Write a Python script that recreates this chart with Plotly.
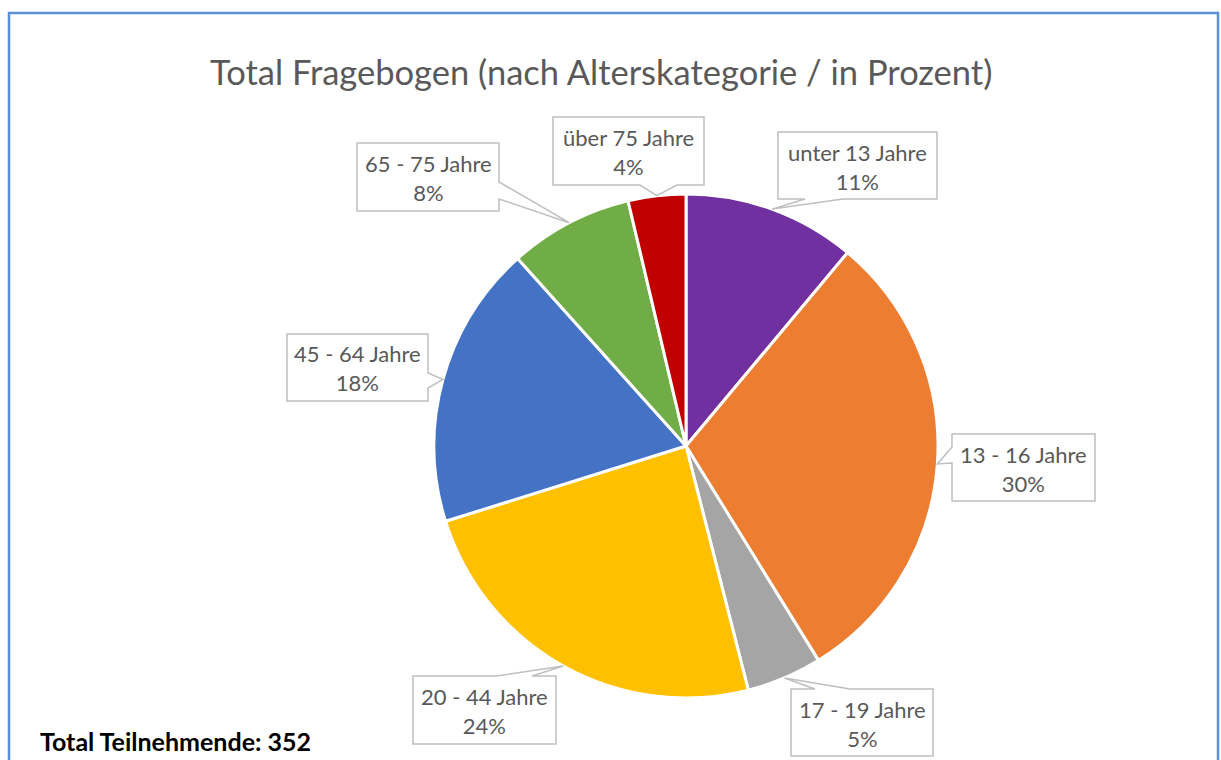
import math
import plotly.graph_objects as go

# ---- data ----
categories = ["unter 13 Jahre", "13 - 16 Jahre", "17 - 19 Jahre", "20 - 44 Jahre",
              "45 - 64 Jahre", "65 - 75 Jahre", "über 75 Jahre"]
counts = [39, 106, 17, 85, 64, 28, 13]
colors = ["#7030A0", "#ED7D31", "#A5A5A5", "#FFC000", "#4472C4", "#70AD47", "#C00000"]
title_text = "Total Fragebogen (nach Alterskategorie / in Prozent)"
total_prefix = "Total Teilnehmende: "

# ---- layout (pixels) ----
W, H = 1221, 760
CX, CY, R = 686, 446, 252
# callout boxes: x0, y0, x1, y1, pointer edge, pointer base start/end
label_boxes = [
    (778, 132, 937, 199, "bottom", 805, 843),
    (952, 434, 1095, 501, "left", 447, 463),
    (791, 689, 933, 756, "top", 815, 850),
    (413, 676, 556, 744, "top", 497, 532),
    (287, 334, 428, 401, "right", 373, 388),
    (357, 143, 499, 211, "right", 182, 199),
    (553, 117, 704, 185, "bottom", 640, 677),
]

FONT = "Lato"
TEXT_GREY = "#595959"


def px(x):
    return x / W


def py(y):
    return 1 - y / H


def pt(x, y):
    return f"{px(x):.5f},{py(y):.5f}"


total = sum(counts)

fig = go.Figure()
fig.add_trace(go.Pie(
    labels=categories, values=counts, sort=False, direction="clockwise", rotation=0,
    marker=dict(colors=colors, line=dict(color="white", width=3)),
    textinfo="none", hoverinfo="label+percent", showlegend=False,
    domain=dict(x=[px(CX - R), px(CX + R)], y=[py(CY + R), py(CY - R)]),
))

shapes = []
annotations = []

# chart-area border (bottom edge is cut off in the picture)
shapes.append(dict(type="rect", xref="paper", yref="paper",
                   x0=px(9), x1=px(1218), y0=py(13), y1=py(800),
                   line=dict(color="#5B8FD6", width=2.5), fillcolor="rgba(0,0,0,0)"))

cum = 0
for cat, v, box in zip(categories, counts, label_boxes):
    mid = (cum + v / 2) / total * 2 * math.pi
    cum += v
    tx = CX + R * math.sin(mid)
    ty = CY - R * math.cos(mid)
    x0, y0, x1, y1, edge, a, b = box
    if edge == "bottom":
        pts = [(x0, y0), (x1, y0), (x1, y1), (b, y1), (tx, ty), (a, y1), (x0, y1)]
    elif edge == "top":
        pts = [(x0, y0), (a, y0), (tx, ty), (b, y0), (x1, y0), (x1, y1), (x0, y1)]
    elif edge == "left":
        pts = [(x0, y0), (x1, y0), (x1, y1), (x0, y1), (x0, b), (tx, ty), (x0, a)]
    else:
        pts = [(x0, y0), (x1, y0), (x1, a), (tx, ty), (x1, b), (x1, y1), (x0, y1)]
    path = "M " + " L ".join(pt(x, y) for x, y in pts) + " Z"
    shapes.append(dict(type="path", xref="paper", yref="paper", path=path,
                       fillcolor="white", line=dict(color="#BFBFBF", width=1.5)))
    pct = round(v / total * 100)
    annotations.append(dict(
        xref="paper", yref="paper", x=px((x0 + x1) / 2), y=py((y0 + y1) / 2 + 1),
        xanchor="center", yanchor="middle", showarrow=False, align="center",
        text=f"{cat}<br>{pct}%", font=dict(family=FONT, size=22, color=TEXT_GREY)))

annotations.append(dict(
    xref="paper", yref="paper", x=px(601), y=py(72), xanchor="center", yanchor="middle",
    showarrow=False, text=title_text, font=dict(family=FONT, size=34.5, color=TEXT_GREY)))
annotations.append(dict(
    xref="paper", yref="paper", x=px(38), y=py(741), xanchor="left", yanchor="middle",
    showarrow=False, text=f"<b>{total_prefix}{total}</b>",
    font=dict(family=FONT, size=25, color="black")))

fig.update_layout(
    width=W, height=H, margin=dict(l=0, r=0, t=0, b=0),
    paper_bgcolor="white", plot_bgcolor="white",
    shapes=shapes, annotations=annotations,
)

fig.write_html("out.html", config={"displayModeBar": False},
               post_script="document.body.style.margin='0';document.body.style.overflow='hidden';")
